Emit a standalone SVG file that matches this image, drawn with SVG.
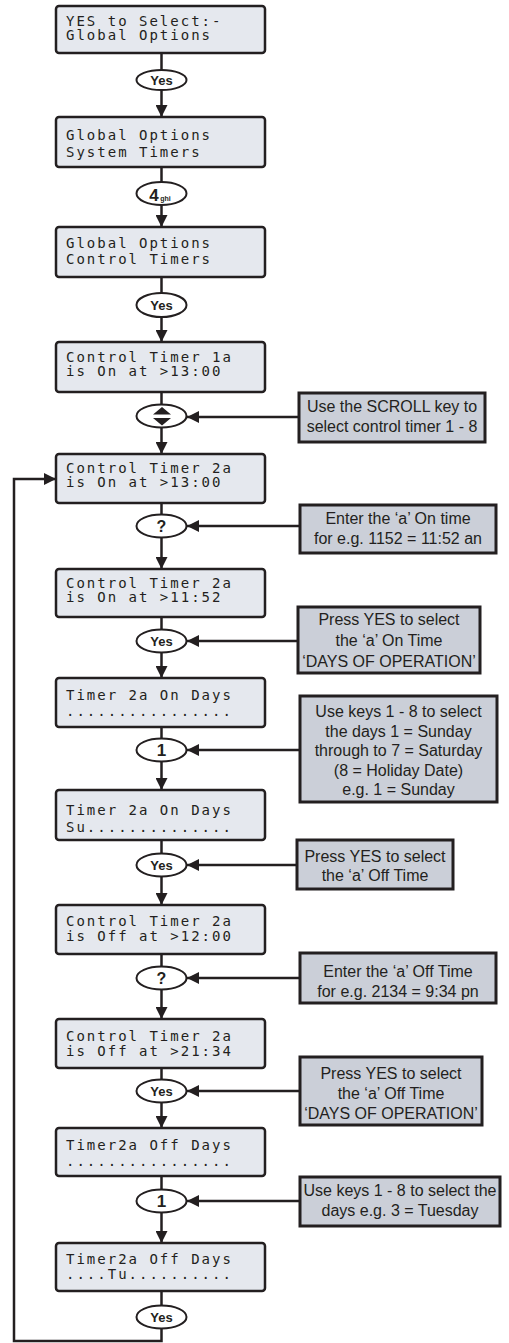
<svg xmlns="http://www.w3.org/2000/svg" width="509" height="1343" viewBox="0 0 509 1343">
<style>
.lcd{fill:#e5e8ee;stroke:#231f20;stroke-width:2.5}
.lt{font-family:"DejaVu Sans Mono","Liberation Mono",monospace;font-size:14px;letter-spacing:2px;fill:#231f20}
.note{fill:#cbcfd8;stroke:#231f20;stroke-width:3}
.nt{font-family:"Liberation Sans",Arial,sans-serif;font-size:16px;fill:#231f20;text-anchor:middle}
.key{fill:#fff;stroke:#231f20;stroke-width:2}
.kt{font-family:"Liberation Sans",Arial,sans-serif;font-weight:bold;fill:#231f20;text-anchor:middle}
.ln{fill:none;stroke:#231f20;stroke-width:2.5}
</style>
<defs>
<marker id="ah" markerUnits="userSpaceOnUse" markerWidth="12" markerHeight="12" viewBox="0 0 12 12" refX="12" refY="6" orient="auto">
<path d="M0,0 L12,6 L0,12 z" fill="#231f20"/>
</marker>
</defs>

<g id="connectors">
<path class="ln" d="M161.5,53 V70"/>
<path class="ln" d="M161.5,90 V117" marker-end="url(#ah)"/>
<path class="ln" d="M161.5,167 V182"/>
<path class="ln" d="M161.5,205 V227" marker-end="url(#ah)"/>
<path class="ln" d="M161.5,277 V293"/>
<path class="ln" d="M161.5,317 V342" marker-end="url(#ah)"/>
<path class="ln" d="M161.5,392 V404.5"/>
<path class="ln" d="M161.5,427.5 V454" marker-end="url(#ah)"/>
<path class="ln" d="M161.5,503 V514.5"/>
<path class="ln" d="M161.5,537.5 V569" marker-end="url(#ah)"/>
<path class="ln" d="M161.5,617 V629.5"/>
<path class="ln" d="M161.5,652.5 V678" marker-end="url(#ah)"/>
<path class="ln" d="M161.5,727 V738.5"/>
<path class="ln" d="M161.5,761.5 V790" marker-end="url(#ah)"/>
<path class="ln" d="M161.5,840 V853.5"/>
<path class="ln" d="M161.5,876.5 V905" marker-end="url(#ah)"/>
<path class="ln" d="M161.5,954 V966.5"/>
<path class="ln" d="M161.5,989.5 V1019" marker-end="url(#ah)"/>
<path class="ln" d="M161.5,1068 V1079.5"/>
<path class="ln" d="M161.5,1102.5 V1128" marker-end="url(#ah)"/>
<path class="ln" d="M161.5,1176 V1189.5"/>
<path class="ln" d="M161.5,1212.5 V1243" marker-end="url(#ah)"/>
<path class="ln" d="M161.5,1291 V1305.5"/>
<path class="ln" d="M161.5,1328.5 V1341 H14 V479 H56" marker-end="url(#ah)"/>
<path class="ln" d="M299,417 H187" marker-end="url(#ah)"/>
<path class="ln" d="M300,526 H187" marker-end="url(#ah)"/>
<path class="ln" d="M298,641 H187" marker-end="url(#ah)"/>
<path class="ln" d="M300,750 H187" marker-end="url(#ah)"/>
<path class="ln" d="M297,865 H187" marker-end="url(#ah)"/>
<path class="ln" d="M300,978 H187" marker-end="url(#ah)"/>
<path class="ln" d="M300,1091 H187" marker-end="url(#ah)"/>
<path class="ln" d="M300,1201 H187" marker-end="url(#ah)"/>
</g>

<g id="lcd1"><rect class="lcd" x="56" y="6" width="209" height="47" rx="3"/>
<text class="lt" x="66" y="26">YES to Select:-</text><text class="lt" x="66" y="40">Global Options</text></g>
<g id="key1"><ellipse class="key" cx="161.5" cy="80" rx="25" ry="10"/><text class="kt" x="161.5" y="85" font-size="13">Yes</text></g>

<g id="lcd2"><rect class="lcd" x="56" y="117" width="209" height="50" rx="3"/>
<text class="lt" x="66" y="140">Global Options</text><text class="lt" x="66" y="157">System Timers</text></g>
<g id="key2"><ellipse class="key" cx="161.5" cy="193.5" rx="25" ry="11.5"/><text class="kt" x="154" y="201" font-size="17">4</text><text class="kt" x="165.5" y="201" font-size="7">ghi</text></g>

<g id="lcd3"><rect class="lcd" x="56" y="227" width="209" height="50" rx="3"/>
<text class="lt" x="66" y="248">Global Options</text><text class="lt" x="66" y="264">Control Timers</text></g>
<g id="key3"><ellipse class="key" cx="161.5" cy="305" rx="25" ry="12"/><text class="kt" x="161.5" y="310" font-size="13">Yes</text></g>

<g id="lcd4"><rect class="lcd" x="56" y="342" width="209" height="50" rx="3"/>
<text class="lt" x="66" y="362">Control Timer 1a</text><text class="lt" x="66" y="376">is On at &gt;13:00</text></g>
<g id="key4"><ellipse class="key" cx="161.5" cy="416" rx="25" ry="11.5"/>
<path d="M153,414.5 L162,407 L171,414.5 z M153,418 L171,418 L162,425.5 z" fill="#231f20"/></g>
<g id="note1"><rect class="note" x="299" y="393" width="186" height="49"/>
<text class="nt" x="392" y="412">Use the SCROLL key to</text><text class="nt" x="392" y="432">select control timer 1 - 8</text></g>

<g id="lcd5"><rect class="lcd" x="56" y="454" width="209" height="49" rx="3"/>
<text class="lt" x="66" y="473">Control Timer 2a</text><text class="lt" x="66" y="487">is On at &gt;13:00</text></g>
<g id="key5"><ellipse class="key" cx="161.5" cy="526" rx="25" ry="11.5"/><text class="kt" x="161.5" y="532" font-size="16">?</text></g>
<g id="note2"><rect class="note" x="300" y="505" width="196" height="48"/>
<text class="nt" x="398" y="524">Enter the ‘a’ On time</text><text class="nt" x="398" y="544">for e.g. 1152 = 11:52 an</text></g>

<g id="lcd6"><rect class="lcd" x="56" y="569" width="209" height="48" rx="3"/>
<text class="lt" x="66" y="588">Control Timer 2a</text><text class="lt" x="66" y="602">is On at &gt;11:52</text></g>
<g id="key6"><ellipse class="key" cx="161.5" cy="641" rx="25" ry="11.5"/><text class="kt" x="161.5" y="646" font-size="13">Yes</text></g>
<g id="note3"><rect class="note" x="298" y="607" width="182" height="66"/>
<text class="nt" x="389" y="625">Press YES to select</text><text class="nt" x="389" y="646">the ‘a’ On Time</text><text class="nt" x="389" y="667">‘DAYS OF OPERATION’</text></g>

<g id="lcd7"><rect class="lcd" x="56" y="678" width="209" height="49" rx="3"/>
<text class="lt" x="66" y="700">Timer 2a On Days</text><text class="lt" x="66" y="716">................</text></g>
<g id="key7"><ellipse class="key" cx="161.5" cy="750" rx="25" ry="11.5"/><text class="kt" x="161.5" y="756" font-size="17">1</text></g>
<g id="note4"><rect class="note" x="300" y="696" width="197" height="106"/>
<text class="nt" x="398.5" y="717">Use keys 1 - 8 to select</text><text class="nt" x="398.5" y="736.5">the days 1 = Sunday</text><text class="nt" x="398.5" y="756">through to 7 = Saturday</text><text class="nt" x="398.5" y="775.5">(8 = Holiday Date)</text><text class="nt" x="398.5" y="795">e.g. 1 = Sunday</text></g>

<g id="lcd8"><rect class="lcd" x="56" y="790" width="209" height="50" rx="3"/>
<text class="lt" x="66" y="815">Timer 2a On Days</text><text class="lt" x="66" y="832">Su..............</text></g>
<g id="key8"><ellipse class="key" cx="161.5" cy="865" rx="25" ry="11.5"/><text class="kt" x="161.5" y="870" font-size="13">Yes</text></g>
<g id="note5"><rect class="note" x="297" y="840" width="156" height="49"/>
<text class="nt" x="375" y="862">Press YES to select</text><text class="nt" x="375" y="881">the ‘a’ Off Time</text></g>

<g id="lcd9"><rect class="lcd" x="56" y="905" width="209" height="49" rx="3"/>
<text class="lt" x="66" y="926">Control Timer 2a</text><text class="lt" x="66" y="941">is Off at &gt;12:00</text></g>
<g id="key9"><ellipse class="key" cx="161.5" cy="978" rx="25" ry="11.5"/><text class="kt" x="161.5" y="984" font-size="16">?</text></g>
<g id="note6"><rect class="note" x="300" y="953" width="196" height="50"/>
<text class="nt" x="398" y="977">Enter the ‘a’ Off Time</text><text class="nt" x="398" y="997">for e.g. 2134 = 9:34 pn</text></g>

<g id="lcd10"><rect class="lcd" x="56" y="1019" width="209" height="49" rx="3"/>
<text class="lt" x="66" y="1041">Control Timer 2a</text><text class="lt" x="66" y="1056">is Off at &gt;21:34</text></g>
<g id="key10"><ellipse class="key" cx="161.5" cy="1091" rx="25" ry="11.5"/><text class="kt" x="161.5" y="1096" font-size="13">Yes</text></g>
<g id="note7"><rect class="note" x="300" y="1057" width="182" height="68"/>
<text class="nt" x="391" y="1079">Press YES to select</text><text class="nt" x="391" y="1099">the ‘a’ Off Time</text><text class="nt" x="391" y="1119">‘DAYS OF OPERATION’</text></g>

<g id="lcd11"><rect class="lcd" x="56" y="1128" width="209" height="48" rx="3"/>
<text class="lt" x="66" y="1150">Timer2a Off Days</text><text class="lt" x="66" y="1166">................</text></g>
<g id="key11"><ellipse class="key" cx="161.5" cy="1201" rx="25" ry="11.5"/><text class="kt" x="161.5" y="1207" font-size="17">1</text></g>
<g id="note8"><rect class="note" x="300" y="1177" width="200" height="49"/>
<text class="nt" x="400" y="1196">Use keys 1 - 8 to select the</text><text class="nt" x="400" y="1216">days e.g. 3 = Tuesday</text></g>

<g id="lcd12"><rect class="lcd" x="56" y="1243" width="209" height="48" rx="3"/>
<text class="lt" x="66" y="1264">Timer2a Off Days</text><text class="lt" x="66" y="1279">....Tu..........</text></g>
<g id="key12"><ellipse class="key" cx="161.5" cy="1317" rx="25" ry="11.5"/><text class="kt" x="161.5" y="1322" font-size="13">Yes</text></g>
</svg>
